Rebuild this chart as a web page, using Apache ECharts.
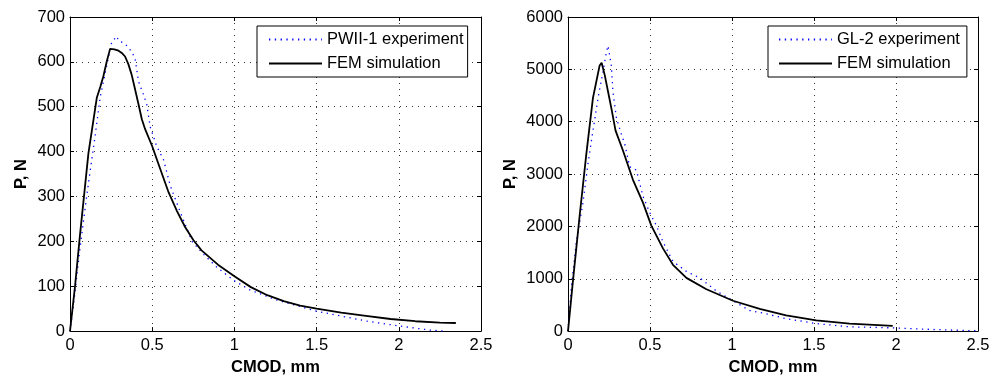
<!DOCTYPE html>
<html><head><meta charset="utf-8">
<script src="https://cdn.jsdelivr.net/npm/echarts@6/dist/echarts.min.js"></script>
<style>html,body{margin:0;padding:0;background:#fff}#c{width:998px;height:381px}</style>
</head><body><div id="c"></div>
<script>
// Left chart: PWII-1
const pwExpX = [0,0.02,0.061,0.102,0.152,0.183,0.224,0.254,0.285,0.295,0.315,0.346,0.376,0.396,0.417,0.447,0.467,0.488,0.528,0.569,0.61,0.671,0.742,0.813,0.894,0.996,1.098,1.26,1.504,1.809,2.01,2.195,2.276];
const pwExpY = [0,55,185,302,433,520,593,644,657,647,644,636,622,607,556,527,505,455,411,382,324,265,200,171,142,113,91,69,44,22,11,2,0];
const pwFemX = [0,0.03,0.061,0.112,0.163,0.185,0.203,0.225,0.244,0.27,0.295,0.315,0.335,0.355,0.376,0.395,0.417,0.437,0.457,0.5,0.55,0.6,0.65,0.7,0.75,0.8,0.9,1.0,1.1,1.2,1.3,1.4,1.5,1.65,1.8,1.95,2.1,2.25,2.347];
const pwFemY = [0,98,215,396,520,545,568,603,629,628,625,620,612,595,570,540,505,472,450,412,360,309,268,232,203,180,148,122,98,80,67,57,50,41,34,27,22,19,18];
// Right chart: GL-2
const glExpX = [0,0.02,0.051,0.091,0.122,0.152,0.183,0.213,0.234,0.244,0.264,0.274,0.295,0.325,0.346,0.376,0.417,0.457,0.498,0.539,0.579,0.64,0.722,0.803,0.904,1.006,1.108,1.209,1.33,1.514,1.717,1.98,2.226,2.49];
const glExpY = [0,830,1705,2450,3200,3825,4450,4950,5325,5450,5075,4575,4075,3765,3575,3140,3075,2580,2265,2015,1705,1330,1140,1017,768,580,393,330,237,144,81,62,31,6];
const glFemX = [0,0.03,0.071,0.112,0.152,0.193,0.205,0.224,0.264,0.29,0.335,0.396,0.457,0.508,0.579,0.64,0.722,0.844,1.006,1.169,1.33,1.514,1.717,1.98];
const glFemY = [0,955,2203,3390,4450,5075,5125,4890,4265,3830,3450,2890,2455,2015,1580,1267,1017,800,580,425,300,206,144,100];

const xTicks = [0, 0.5, 1, 1.5, 2, 2.5];
const pwYMax = 700, pwYStep = 100;
const glYMax = 6000, glYStep = 1000;

const zip = (xs, ys) => xs.map((x, i) => [x, ys[i]]);
const FONT = 'Liberation Sans, Arial, sans-serif';
const grids = [
  {left: 70, top: 17, width: 411, height: 321},
  {left: 568, top: 17, width: 410, height: 321}
];
function xAxes(gi) {
  return [
    {type: 'value', gridIndex: gi, min: 0, max: 2.5, interval: 0.5, position: 'bottom',
     name: 'CMOD, mm', nameLocation: 'middle', nameGap: 25,
     nameTextStyle: {fontFamily: FONT, fontSize: 16.5, fontWeight: 'bold', color: '#000'},
     axisLine: {show: true, onZero: false, lineStyle: {color: '#000', width: 1}},
     axisTick: {show: true, inside: true, length: 4, lineStyle: {color: '#000'}},
     axisLabel: {fontFamily: FONT, fontSize: 16.5, color: '#000', margin: 6,
       formatter: v => String(xTicks.find(t => Math.abs(t - v) < 1e-9) ?? v)},
     splitLine: {show: true, lineStyle: {color: '#333', type: [1, 5], width: 1}}},
    {type: 'value', gridIndex: gi, min: 0, max: 2.5, interval: 0.5, position: 'top',
     axisLine: {show: true, onZero: false, lineStyle: {color: '#000', width: 1}},
     axisTick: {show: true, inside: true, length: 4, lineStyle: {color: '#000'}},
     axisLabel: {show: false}, splitLine: {show: false}}
  ];
}
function yAxes(gi, max, step, gap) {
  return [
    {type: 'value', gridIndex: gi, min: 0, max: max, interval: step, position: 'left',
     name: 'P, N', nameLocation: 'middle', nameGap: gap,
     nameTextStyle: {fontFamily: FONT, fontSize: 16.5, fontWeight: 'bold', color: '#000'},
     axisLine: {show: true, onZero: false, lineStyle: {color: '#000', width: 1}},
     axisTick: {show: true, inside: true, length: 4, lineStyle: {color: '#000'}},
     axisLabel: {fontFamily: FONT, fontSize: 16.5, color: '#000', margin: 5, formatter: v => String(v)},
     splitLine: {show: true, lineStyle: {color: '#333', type: [1, 5], width: 1}}},
    {type: 'value', gridIndex: gi, min: 0, max: max, interval: step, position: 'right',
     axisLine: {show: true, onZero: false, lineStyle: {color: '#000', width: 1}},
     axisTick: {show: true, inside: true, length: 4, lineStyle: {color: '#000'}},
     axisLabel: {show: false}, splitLine: {show: false}}
  ];
}
const expStyle = {color: '#0000ff', width: 1.3, type: [1.3, 4.5]};
const femStyle = {color: '#000', width: 1.8, type: 'solid'};
function legend(left, names, pad) {
  return {left: left, top: 26, orient: 'vertical', data: names,
    itemWidth: 53, itemHeight: 14, itemGap: 7, padding: pad,
    borderColor: '#000', borderWidth: 1, backgroundColor: '#fff', borderRadius: 0,
    selectedMode: false, itemStyle: {opacity: 0},
    textStyle: {fontFamily: FONT, fontSize: 16.5, color: '#000'}};
}
const option = {
  animation: false,
  grid: grids,
  xAxis: [...xAxes(0), ...xAxes(1)],
  yAxis: [...yAxes(0, pwYMax, pwYStep, 40), ...yAxes(1, glYMax, glYStep, 49)],
  legend: [
    legend(257, ['PWII-1 experiment', 'FEM simulation'], [5, 4, 5, 11]),
    legend(768, ['GL-2 experiment', 'FEM simulation '], [5, 7, 5, 10])
  ],
  series: [
    {name: 'PWII-1 experiment', type: 'line', xAxisIndex: 0, yAxisIndex: 0, data: zip(pwExpX, pwExpY),
     symbol: 'none', smooth: false, lineStyle: expStyle, itemStyle: {color: '#0000ff'}},
    {name: 'FEM simulation', type: 'line', xAxisIndex: 0, yAxisIndex: 0, data: zip(pwFemX, pwFemY),
     symbol: 'none', smooth: false, lineStyle: femStyle, itemStyle: {color: '#000'}},
    {name: 'GL-2 experiment', type: 'line', xAxisIndex: 2, yAxisIndex: 2, data: zip(glExpX, glExpY),
     symbol: 'none', smooth: false, lineStyle: expStyle, itemStyle: {color: '#0000ff'}},
    {name: 'FEM simulation ', type: 'line', xAxisIndex: 2, yAxisIndex: 2, data: zip(glFemX, glFemY),
     symbol: 'none', smooth: false, lineStyle: femStyle, itemStyle: {color: '#000'}}
  ]
};
const chart = echarts.init(document.getElementById('c'), null, {renderer: 'canvas'});
chart.setOption(option);
</script></body></html>
